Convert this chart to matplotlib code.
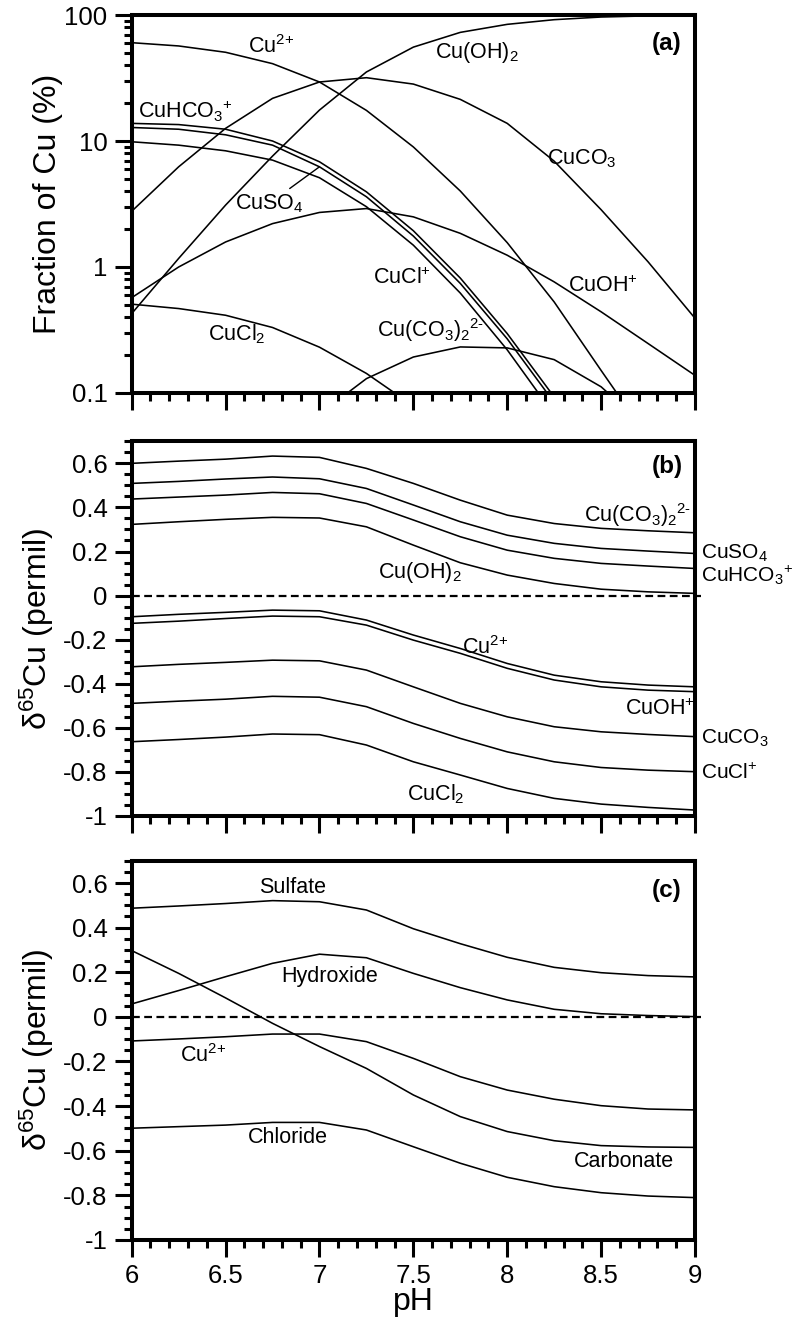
import numpy as np
import matplotlib
matplotlib.use('Agg')
from matplotlib import pyplot as plt
from matplotlib.ticker import MultipleLocator, FixedLocator, LogLocator, NullFormatter, FuncFormatter

plt.rcParams['font.family'] = ['Liberation Sans', 'DejaVu Sans']
plt.rcParams['mathtext.fontset'] = 'custom'
plt.rcParams['mathtext.rm'] = 'Liberation Sans'
plt.rcParams['mathtext.it'] = 'Liberation Sans:italic'
plt.rcParams['mathtext.bf'] = 'Liberation Sans:bold'
plt.rcParams['axes.unicode_minus'] = False

nan = np.nan
ph = [6.0, 6.25, 6.5, 6.75, 7.0, 7.25, 7.5, 7.75, 8.0, 8.25, 8.5, 8.75, 9.0]

# (a) speciation, percent of total Cu
frac_cu = [60.3, 56.8, 50.6, 41.1, 29.4, 17.5, 8.97, 4.01, 1.56, 0.528, 0.151, 0.044, nan]
frac_cuoh2 = [0.427, 1.17, 3.10, 7.59, 17.6, 35.3, 55.6, 72.8, 84.3, 91.8, 96.4, 98.4, 99.5]
frac_cuco3 = [2.77, 6.24, 12.6, 21.8, 29.4, 31.8, 28.3, 21.4, 13.8, 6.92, 2.85, 1.10, 0.392]
frac_cuoh = [0.571, 1.00, 1.58, 2.21, 2.71, 2.91, 2.50, 1.85, 1.24, 0.762, 0.441, 0.247, 0.138]
frac_cucl2 = [0.507, 0.468, 0.414, 0.331, 0.231, 0.143, 0.079, nan, nan, nan, nan, nan, nan]
frac_cuco3_2 = [nan, nan, nan, nan, 0.068, 0.130, 0.193, 0.232, 0.228, 0.184, 0.112, 0.052, nan]
frac_cuhco3 = [13.8, 13.5, 12.4, 10.0, 6.84, 3.95, 1.94, 0.817, 0.296, 0.093, nan, nan, nan]
frac_cuso4 = [12.8, 12.4, 11.2, 9.27, 6.24, 3.61, 1.76, 0.741, 0.269, 0.084, nan, nan, nan]
frac_cucl = [9.86, 9.27, 8.36, 7.05, 5.11, 3.01, 1.49, 0.621, 0.220, 0.067, nan, nan, nan]

# (b) d65Cu of each species
d_cuco3_2 = [0.600, 0.610, 0.619, 0.633, 0.627, 0.577, 0.509, 0.433, 0.365, 0.327, 0.305, 0.294, 0.285]
d_cuso4 = [0.509, 0.518, 0.529, 0.538, 0.530, 0.486, 0.411, 0.335, 0.274, 0.237, 0.214, 0.202, 0.191]
d_cuhco3 = [0.438, 0.447, 0.456, 0.468, 0.462, 0.418, 0.343, 0.267, 0.206, 0.169, 0.146, 0.134, 0.123]
d_cuoh2 = [0.323, 0.335, 0.346, 0.355, 0.352, 0.312, 0.229, 0.149, 0.093, 0.055, 0.029, 0.017, 0.010]
d_cu = [-0.096, -0.085, -0.076, -0.066, -0.069, -0.111, -0.179, -0.240, -0.308, -0.361, -0.391, -0.406, -0.414]
d_cuoh = [-0.126, -0.116, -0.104, -0.093, -0.096, -0.134, -0.202, -0.262, -0.330, -0.383, -0.414, -0.429, -0.436]
d_cuco3 = [-0.323, -0.312, -0.303, -0.293, -0.296, -0.338, -0.414, -0.489, -0.550, -0.595, -0.618, -0.630, -0.640]
d_cucl = [-0.489, -0.479, -0.470, -0.457, -0.461, -0.504, -0.580, -0.648, -0.709, -0.754, -0.780, -0.792, -0.799]
d_cucl2 = [-0.663, -0.653, -0.642, -0.628, -0.631, -0.678, -0.754, -0.814, -0.875, -0.920, -0.946, -0.961, -0.973]

# (c) d65Cu grouped by ligand
g_sulfate = [0.487, 0.497, 0.508, 0.521, 0.516, 0.479, 0.395, 0.328, 0.267, 0.222, 0.198, 0.185, 0.179]
g_hydroxide = [0.058, 0.118, 0.180, 0.240, 0.281, 0.265, 0.195, 0.131, 0.076, 0.034, 0.014, 0.006, 0.001]
g_cu = [-0.108, -0.099, -0.089, -0.077, -0.077, -0.111, -0.186, -0.268, -0.328, -0.369, -0.398, -0.413, -0.417]
g_carbonate = [0.297, 0.195, 0.085, -0.029, -0.133, -0.231, -0.350, -0.447, -0.514, -0.555, -0.577, -0.583, -0.585]
g_chloride = [-0.499, -0.492, -0.485, -0.473, -0.473, -0.507, -0.582, -0.656, -0.719, -0.761, -0.788, -0.803, -0.810]

log_ticks = [0.1, 1, 10, 100]
log_labels = ['0.1', '1', '10', '100']
d_ticks = [-1, -0.8, -0.6, -0.4, -0.2, 0, 0.2, 0.4, 0.6]
d_labels = ['-1', '-0.8', '-0.6', '-0.4', '-0.2', '0', '0.2', '0.4', '0.6']

LW = 1.15
FS = 15.5
FS_OUT = 15.0   # labels sitting right of panel (b)


def style_axes(ax):
    for s in ['top', 'right', 'bottom', 'left']:
        ax.spines[s].set_linewidth(2.9)
    ax.tick_params(which='both', direction='out', width=2.2, top=False, right=False,
                   labelsize=18.5, pad=5.5)
    ax.tick_params(which='major', length=12)
    ax.tick_params(which='minor', length=5.5)
    ax.set_xlim(6, 9)
    ax.xaxis.set_major_locator(MultipleLocator(0.5))
    ax.xaxis.set_minor_locator(MultipleLocator(0.1))
    ax.xaxis.set_major_formatter(FuncFormatter(lambda v, p: '%g' % v))


def style_delta(ax):
    style_axes(ax)
    ax.set_ylim(-1, 0.7)
    ax.yaxis.set_major_locator(FixedLocator(d_ticks))
    ax.set_yticklabels(d_labels)
    ax.yaxis.set_minor_locator(MultipleLocator(0.05))
    ax.axhline(0, xmin=0, xmax=1.01, color='k', lw=1.6, ls=(0, (3.5, 2)), clip_on=False)
    ax.set_ylabel('δ$^{65}$Cu (permil)', fontsize=23)
    ax.yaxis.label.set_va('center')
    ax.yaxis.set_label_coords(-0.168, 0.5)


fig = plt.figure(figsize=(7.93, 13.23), dpi=100)
ax_a = fig.add_axes([0.1661, 0.70295, 0.7103, 0.28571])
ax_b = fig.add_axes([0.1661, 0.38322, 0.7103, 0.28322])
ax_c = fig.add_axes([0.1661, 0.06274, 0.7103, 0.28670])

# ---- (a) fraction of Cu in each species
for series in [frac_cu, frac_cuoh2, frac_cuco3, frac_cuoh, frac_cucl2, frac_cuco3_2,
               frac_cuhco3, frac_cuso4, frac_cucl]:
    ax_a.plot(ph, series, color='k', lw=LW)
style_axes(ax_a)
ax_a.set_yscale('log')
ax_a.set_ylim(0.1, 100)
ax_a.yaxis.set_major_locator(FixedLocator(log_ticks))
ax_a.set_yticklabels(log_labels)
ax_a.yaxis.set_minor_locator(LogLocator(base=10, subs=range(2, 10)))
ax_a.yaxis.set_minor_formatter(NullFormatter())
ax_a.tick_params(labelbottom=False)
ax_a.set_ylabel('Fraction of Cu (%)', fontsize=23)
ax_a.yaxis.label.set_va('center')
ax_a.yaxis.set_label_coords(-0.1486, 0.5)

ax_a.text(6.619, 49.9, r'Cu$^{\text{2+}}$', fontsize=FS, va='baseline')
ax_a.text(7.615, 45.8, r'Cu(OH)$_2$', fontsize=FS, va='baseline')
ax_a.text(6.035, 15.1, r'CuHCO$_3$$^{\text{+}}$', fontsize=FS, va='baseline')
ax_a.annotate(r'CuSO$_4$', xy=(ph[4], frac_cuso4[4]), xytext=(6.55, 2.88), fontsize=FS,
              va='baseline', arrowprops=dict(arrowstyle='-', color='k', lw=1.0,
                                             shrinkA=1, shrinkB=0))
ax_a.text(7.287, 0.739, r'CuCl$^{\text{+}}$', fontsize=FS, va='baseline')
ax_a.text(8.210, 6.55, r'CuCO$_3$', fontsize=FS, va='baseline')
ax_a.text(8.325, 0.634, r'CuOH$^{\text{+}}$', fontsize=FS, va='baseline')
ax_a.text(7.305, 0.277, r'Cu(CO$_3$)$_2$$^{\text{2-}}$', fontsize=FS, va='baseline')
ax_a.text(6.408, 0.262, r'CuCl$_2$', fontsize=FS, va='baseline')
ax_a.text(8.769, 52.7, '(a)', fontsize=17.5, fontweight='bold', va='baseline')

# ---- (b) isotope composition of each species
for series in [d_cuco3_2, d_cuso4, d_cuhco3, d_cuoh2, d_cu, d_cuoh, d_cuco3, d_cucl, d_cucl2]:
    ax_b.plot(ph, series, color='k', lw=LW)
style_delta(ax_b)
ax_b.tick_params(labelbottom=False)

ax_b.text(8.769, 0.554, '(b)', fontsize=17.5, fontweight='bold', va='baseline')
ax_b.text(8.41, 0.335, r'Cu(CO$_3$)$_2$$^{\text{2-}}$', fontsize=FS, va='baseline')
ax_b.text(9.03, 0.169, r'CuSO$_4$', fontsize=FS_OUT, va='baseline')
ax_b.text(9.03, 0.063, r'CuHCO$_3$$^{\text{+}}$', fontsize=FS_OUT, va='baseline')
ax_b.text(7.313, 0.078, r'Cu(OH)$_2$', fontsize=FS, va='baseline')
ax_b.text(7.757, -0.267, r'Cu$^{\text{2+}}$', fontsize=FS, va='baseline')
ax_b.text(8.627, -0.542, r'CuOH$^{\text{+}}$', fontsize=FS, va='baseline')
ax_b.text(9.03, -0.674, r'CuCO$_3$', fontsize=FS_OUT, va='baseline')
ax_b.text(9.03, -0.830, r'CuCl$^{\text{+}}$', fontsize=FS_OUT, va='baseline')
ax_b.text(7.464, -0.928, r'CuCl$_2$', fontsize=FS, va='baseline')

# ---- (c) isotope composition by ligand group
for series in [g_sulfate, g_hydroxide, g_cu, g_carbonate, g_chloride]:
    ax_c.plot(ph, series, color='k', lw=LW)
style_delta(ax_c)
ax_c.set_xlabel('pH', fontsize=23)
ax_c.xaxis.label.set_va('center')
ax_c.xaxis.set_label_coords(0.5, -0.1635)

ax_c.text(8.77, 0.539, '(c)', fontsize=17.5, fontweight='bold', va='baseline')
ax_c.text(6.678, 0.554, 'Sulfate', fontsize=FS, va='baseline')
ax_c.text(6.795, 0.158, 'Hydroxide', fontsize=FS, va='baseline')
ax_c.text(6.257, -0.201, r'Cu$^{\text{2+}}$', fontsize=FS, va='baseline')
ax_c.text(6.619, -0.567, 'Chloride', fontsize=FS, va='baseline')
ax_c.text(8.355, -0.674, 'Carbonate', fontsize=FS, va='baseline')

plt.savefig('out.png', dpi=100)
plt.close()
